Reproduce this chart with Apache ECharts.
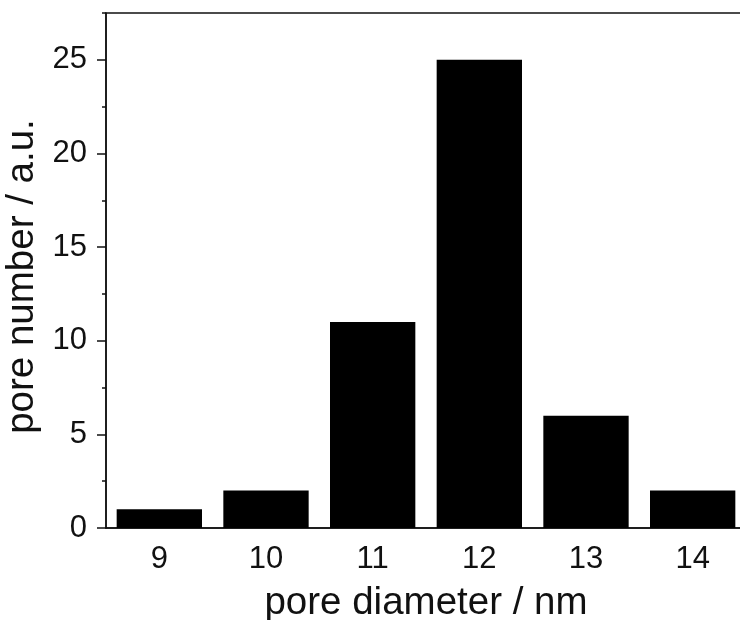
<!DOCTYPE html>
<html>
<head>
<meta charset="utf-8">
<script src="https://cdn.jsdelivr.net/npm/echarts@6/dist/echarts.min.js"></script>
<style>
  html, body { margin: 0; padding: 0; background: #fff; }
  #chart { width: 740px; height: 620px; }
</style>
</head>
<body>
<div id="chart"></div>
<script>
// pore size distribution
const diameters = ["9", "10", "11", "12", "13", "14"];
const poreCounts = [1, 2, 11, 25, 6, 2];
const yMajorTicks = [0, 5, 10, 15, 20, 25];
const yMinorTicks = [2.5, 7.5, 12.5, 17.5, 22.5, 27.5];

const font = "'Liberation Sans', Arial, sans-serif";
const ink = "#111";

let options = {
  animation: false,
  backgroundColor: "#fff",
  grid: [
    { left: 106, top: 13, width: 640, height: 515, outerBoundsMode: "none", show: true, borderColor: ink, borderWidth: 1.5 },
    // second grid only for minor ticks
    { left: 106, top: 13, width: 640, height: 515, outerBoundsMode: "none" }
  ],
  xAxis: [
    {
      type: "category",
      gridIndex: 0,
      data: diameters,
      name: "pore diameter / nm",
      nameLocation: "middle",
      nameGap: 56,
      nameTextStyle: { fontFamily: font, fontSize: 38.5, color: ink },
      axisLine: { lineStyle: { color: ink, width: 1.5 } },
      axisTick: { alignWithLabel: true, length: 9, lineStyle: { color: ink, width: 1.5 } },
      axisLabel: { fontFamily: font, fontSize: 31, color: ink, margin: 16 },
      splitLine: { show: false }
    },
    {
      type: "category",
      gridIndex: 1,
      data: diameters,
      axisLine: { show: false },
      axisTick: { length: 4, lineStyle: { color: ink, width: 1.5 } },
      axisLabel: { show: false },
      splitLine: { show: false }
    }
  ],
  yAxis: [
    {
      type: "value",
      gridIndex: 0,
      min: 0,
      max: 27.5,
      interval: 5,
      name: "pore number / a.u.",
      nameLocation: "middle",
      nameGap: 44,
      nameTextStyle: { fontFamily: font, fontSize: 38.5, color: ink, padding: [0, 12, 0, 0] },
      axisLine: { show: true, lineStyle: { color: ink, width: 1.5 } },
      axisTick: { show: true, length: 9, customValues: yMajorTicks, lineStyle: { color: ink, width: 1.5 } },
      axisLabel: { fontFamily: font, fontSize: 31, color: ink, margin: 19, customValues: yMajorTicks },
      splitLine: { show: false }
    },
    {
      type: "value",
      gridIndex: 1,
      min: 0,
      max: 27.5,
      axisLine: { show: false },
      axisTick: { show: true, length: 4, customValues: yMinorTicks, lineStyle: { color: ink, width: 1.5 } },
      axisLabel: { show: false },
      splitLine: { show: false }
    }
  ],
  series: [
    {
      type: "bar",
      xAxisIndex: 0,
      yAxisIndex: 0,
      data: poreCounts,
      barWidth: "80%",
      itemStyle: { color: "#000" }
    }
  ]
};

let chart = echarts.init(document.getElementById("chart"));
chart.setOption(options);
</script>
</body>
</html>
